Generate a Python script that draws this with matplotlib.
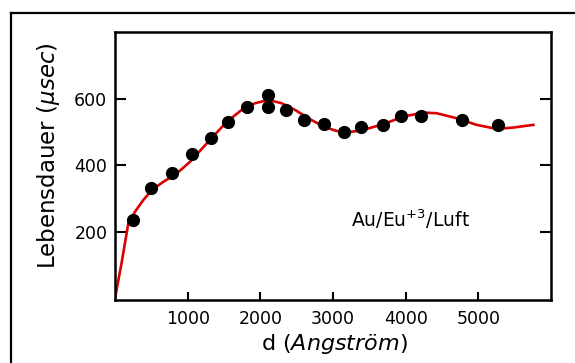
import matplotlib
matplotlib.use("Agg")
import matplotlib.pyplot as plt
from matplotlib.lines import Line2D

# measured data points
d_points = [244, 491, 780, 1055, 1317, 1559, 1812, 2110, 2110, 2353, 2605,
            2880, 3151, 3385, 3684, 3936, 4211, 4771, 5274]
tau_points = [235, 330, 376, 434, 481, 531, 576, 611, 576, 566, 536,
              523, 499, 516, 521, 549, 549, 536, 521]

# fitted curve
d_curve = [0, 92, 183, 275, 389, 505, 665, 849, 1032, 1307, 1537, 1766, 1927,
           2110, 2294, 2477, 2660, 2844, 3027, 3164, 3348, 3417, 3692, 3967,
           4242, 4427, 4702, 4977, 5252, 5481, 5757]
tau_curve = [0, 108, 225, 260, 295, 325, 350, 375, 410, 476, 530, 570, 586,
             596, 586, 566, 541, 519, 504, 498, 503, 506, 523, 546,
             558, 556, 541, 521, 509, 513, 521]

x_ticks = [1000, 2000, 3000, 4000, 5000]
y_ticks = [200, 400, 600]

plt.rcParams['font.family'] = ['DejaVu Sans']
plt.rcParams['mathtext.fontset'] = 'dejavusans'

W, H = 575, 363
fig = plt.figure(figsize=(W / 100, H / 100), dpi=100)
ax = fig.add_axes([115 / W, 1 - 300 / H, (551 - 115) / W, (300 - 32) / H])

ax.plot(d_curve, tau_curve, color='#dc0000', lw=1.9, zorder=2)
ax.plot(d_points, tau_points, 'o', color='black', ms=8.5, zorder=3)

ax.set_xlim(0, 6000)
ax.set_ylim(-5, 800)
ax.set_xticks(x_ticks)
ax.set_yticks(y_ticks)
ax.tick_params(axis='y', which='both', direction='in', length=8, width=1.5,
               right=True, labelsize=12.5, pad=5.5)
ax.tick_params(axis='x', which='both', direction='in', length=6, width=1.5,
               top=False, labelsize=12.5, pad=7.5)
for s in ax.spines.values():
    s.set_linewidth(1.8)

ax.set_xlabel(r'd ($\it{Angström}$)', fontsize=16)
ax.set_ylabel(r'Lebensdauer ($\it{\mu sec}$)', fontsize=16.5)
ax.xaxis.set_label_coords((334 - 115) / (551 - 115), -(344 - 300) / (300 - 32))
ax.xaxis.label.set_va('center')
ax.yaxis.set_label_coords(-(115 - 49) / (551 - 115), (300 - 156) / (300 - 32))
ax.yaxis.label.set_va('center')

ax.text(4060, 238, r'Au/Eu$^{+3}$/Luft', fontsize=13.5, ha='center', va='center')

# outer frame
fig.add_artist(Line2D([11 / W, 11 / W], [0, 1 - 13 / H], transform=fig.transFigure,
                      color='black', lw=1.6))
fig.add_artist(Line2D([11 / W, 1], [1 - 13 / H, 1 - 13 / H], transform=fig.transFigure,
                      color='black', lw=1.6))

fig.savefig('out.png', dpi=100)
